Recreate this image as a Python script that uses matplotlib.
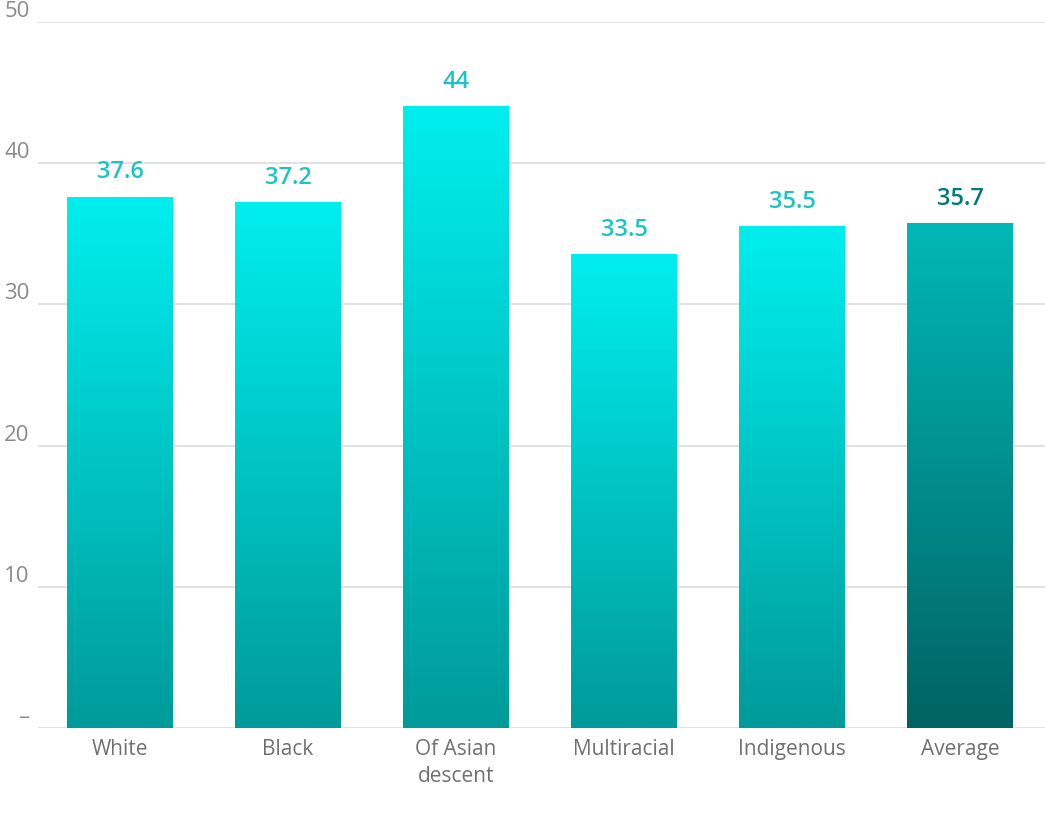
import numpy as np
import matplotlib.pyplot as plt
from matplotlib.colors import LinearSegmentedColormap

categories = ["White", "Black", "Of Asian\ndescent", "Multiracial", "Indigenous", "Average"]
values = [37.6, 37.2, 44, 33.5, 35.5, 35.7]
labels = ["37.6", "37.2", "44", "33.5", "35.5", "35.7"]
yticks = [0, 10, 20, 30, 40, 50]
ytick_labels = ["–", "10", "20", "30", "40", "50"]

plt.rcParams['font.family'] = ['Open Sans', 'DejaVu Sans']

fig = plt.figure(figsize=(10.45, 8.13), dpi=100)
ax = fig.add_axes([38 / 1045, 85 / 813, 1007 / 1045, 706 / 813])

cyan = LinearSegmentedColormap.from_list("cyan", ["#009a9a", "#00eeee"])
dark = LinearSegmentedColormap.from_list("dark", ["#006262", "#00b8b8"])
grad = np.linspace(0, 1, 256).reshape(-1, 1)
width = 0.63

for i, (v, lab) in enumerate(zip(values, labels)):
    last = i == len(values) - 1
    cmap = dark if last else cyan
    ax.imshow(grad, cmap=cmap, origin="lower", aspect="auto",
              extent=[i - width / 2, i + width / 2, 0, v], zorder=2)
    ax.text(i, v + 0.9, lab, ha="center", va="bottom", fontsize=17,
            fontweight="semibold", color="#007a7a" if last else "#1ec3c3", zorder=3)

ax.set_xlim(-0.488, 5.506)
ax.set_ylim(0, 50)
ax.set_yticks(yticks)
ax.set_yticklabels(ytick_labels, fontsize=16, color="#8a8a8a")
ax.set_xticks(range(len(categories)))
ax.set_xticklabels(categories, fontsize=15, color="#707070", linespacing=1.35)
ax.tick_params(axis="both", length=0, pad=8)
ax.tick_params(axis="y", pad=6)
for lab in ax.get_yticklabels():
    lab.set_verticalalignment("bottom")
ax.grid(axis="y", color="#dcdcdc", linewidth=1.2, zorder=0)
for s in ax.spines.values():
    s.set_visible(False)

fig.savefig("out.png", dpi=100)
